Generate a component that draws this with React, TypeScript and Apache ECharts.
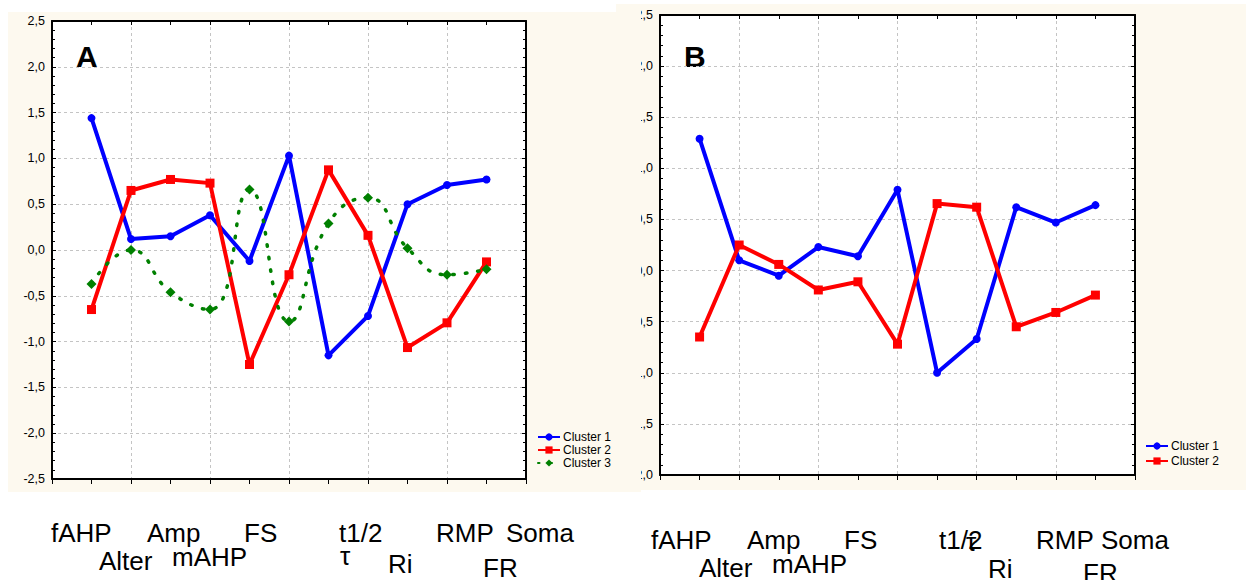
import React, { useEffect, useRef } from "react";
import * as echarts from "echarts";

// ---- data ----
const categories = ["fAHP", "Alter", "Amp", "mAHP", "FS", "τ", "t1/2", "Ri", "RMP", "FR", "Soma"];
const seriesNames = ["Cluster 1", "Cluster 2", "Cluster 3"];
const clusterA1 = [1.44, 0.12, 0.15, 0.38, -0.12, 1.03, -1.15, -0.72, 0.5, 0.71, 0.77];
const clusterA2 = [-0.65, 0.65, 0.77, 0.73, -1.25, -0.27, 0.875, 0.16, -1.065, -0.795, -0.13];
const clusterA3 = [-0.37, 0.0, -0.46, -0.65, 0.66, -0.78, 0.29, 0.57, 0.02, -0.27, -0.21];
const clusterB1 = [1.29, 0.1, -0.05, 0.23, 0.14, 0.79, -1.0, -0.67, 0.62, 0.47, 0.64];
const clusterB2 = [-0.65, 0.25, 0.06, -0.19, -0.11, -0.72, 0.655, 0.62, -0.55, -0.41, -0.24];
const yRangeA = [-2.5, 2.5];
const yRangeB = [-2.0, 2.5];
const yStep = 0.5;

// ---- layout (not data) ----
const FONT = "'Liberation Sans', Arial, sans-serif";
const labelPosA = [
  [51, 533], [99, 561], [147, 533], [172, 557], [244, 533], [340, 556],
  [339, 533], [388, 564], [436, 533], [483, 568], [506, 533],
];
const labelPosB = [
  [51, 540], [99, 568], [147, 540], [172, 564], [244, 540], [366, 542],
  [339, 540], [388, 569], [436, 540], [483, 573], [501, 540],
];

const COLORS = ["#0000ff", "#ff0000", "#008000"];

function styleFor(i: number) {
  if (i === 0)
    return { symbol: "circle", symbolSize: 8, lineStyle: { color: COLORS[0], width: 4 } };
  if (i === 1)
    return { symbol: "rect", symbolSize: 9, lineStyle: { color: COLORS[1], width: 4 } };
  return {
    symbol: "diamond",
    symbolSize: 10,
    smooth: true,
    lineStyle: { color: COLORS[2], width: 3.5, type: [1.5, 11], cap: "round" },
  };
}

function buildOption(cfg: any) {
  const fmt = (v: number) => v.toFixed(1).replace(".", ",");
  const splitLine = { show: true, lineStyle: { color: "#c4c4c4", width: 1, type: [3, 3] } };
  const axisLine = { show: true, onZero: false, lineStyle: { color: "#000", width: 2 } };
  const series = cfg.series.map((vals: number[], i: number) => ({
    type: "line",
    name: seriesNames[i],
    data: vals.map((v, k) => [k + 1, v]),
    itemStyle: { color: COLORS[i] },
    z: 3 + i,
    ...styleFor(i),
  }));
  const graphic: any[] = [
    {
      type: "text",
      x: cfg.letterPos[0],
      y: cfg.letterPos[1],
      style: { text: cfg.letter, fontSize: 30, fontWeight: "bold", fontFamily: FONT, fill: "#000", align: "left", verticalAlign: "top" },
    },
  ];
  categories.forEach((c, i) => {
    graphic.push({
      type: "text",
      x: cfg.labelPos[i][0],
      y: cfg.labelPos[i][1],
      style: { text: c, fontSize: 26, fontFamily: FONT, fill: "#000", align: "left", verticalAlign: "middle" },
    });
  });
  return {
    animation: false,
    textStyle: { fontFamily: FONT },
    grid: { ...cfg.grid, show: true, backgroundColor: "#ffffff", borderWidth: 0, containLabel: false },
    legend: {
      orient: "vertical",
      left: cfg.legend[0],
      top: cfg.legend[1],
      itemWidth: 22,
      itemHeight: 9,
      itemGap: cfg.legendGap,
      padding: 0,
      textStyle: { fontSize: 12, lineHeight: 12, color: "#000", fontFamily: FONT, padding: [0, 0, 0, -2] },
      data: seriesNames.slice(0, cfg.series.length),
    },
    xAxis: [
      {
        type: "value",
        min: 0,
        max: 12,
        interval: 2,
        position: "bottom",
        axisLine,
        axisTick: { show: true, inside: false, length: 5, lineStyle: { color: "#000", width: 1 } },
        minorTick: { show: true, splitNumber: 2, length: 5, lineStyle: { color: "#000", width: 1 } },
        splitLine,
        axisLabel: { show: false },
      },
      {
        type: "value",
        min: 0,
        max: 12,
        interval: 2,
        position: "top",
        axisLine,
        axisTick: { show: true, inside: true, length: 4, lineStyle: { color: "#000", width: 1 } },
        minorTick: { show: true, splitNumber: 2, length: 4, lineStyle: { color: "#000", width: 1 } },
        splitLine: { show: false },
        axisLabel: { show: false },
      },
    ],
    yAxis: [
      {
        type: "value",
        min: cfg.yRange[0],
        max: cfg.yRange[1],
        interval: yStep,
        position: "left",
        axisLine,
        axisTick: { show: true, inside: true, length: 4, lineStyle: { color: "#000", width: 1 } },
        minorTick: { show: true, splitNumber: 5, length: 3, lineStyle: { color: "#000", width: 1 } },
        splitLine,
        axisLabel: { show: true, formatter: fmt, fontSize: 12.5, color: "#000", fontFamily: FONT, margin: 7 },
      },
      {
        type: "value",
        min: cfg.yRange[0],
        max: cfg.yRange[1],
        interval: yStep,
        position: "right",
        axisLine,
        axisTick: { show: true, inside: true, length: 4, lineStyle: { color: "#000", width: 1 } },
        minorTick: { show: true, splitNumber: 5, length: 3, lineStyle: { color: "#000", width: 1 } },
        splitLine: { show: false },
        axisLabel: { show: false },
      },
    ],
    series,
    graphic,
  };
}

export default function App() {
  const refA = useRef<HTMLDivElement>(null);
  const refB = useRef<HTMLDivElement>(null);

  useEffect(() => {
    const a = echarts.init(refA.current!, null, { renderer: "svg" });
    a.setOption(
      buildOption({
        series: [clusterA1, clusterA2, clusterA3],
        yRange: yRangeA,
        grid: { left: 52, top: 21, width: 474, height: 458 },
        letter: "A",
        letterPos: [76, 41],
        legend: [537, 431],
        legendGap: 1,
        labelPos: labelPosA,
      })
    );
    const b = echarts.init(refB.current!, null, { renderer: "svg" });
    b.setOption(
      buildOption({
        series: [clusterB1, clusterB2],
        yRange: yRangeB,
        grid: { left: 60, top: 15, width: 475, height: 460 },
        letter: "B",
        letterPos: [84, 41],
        legend: [545, 440],
        legendGap: 3,
        labelPos: labelPosB,
      })
    );
    return () => {
      a.dispose();
      b.dispose();
    };
  }, []);

  return (
    <div style={{ position: "fixed", left: 0, top: 0, width: 1246, height: 580, background: "#ffffff", overflow: "hidden" }}>
      <div style={{ position: "absolute", left: 616, top: 4, width: 630, height: 486, background: "#fdf9ef" }} />
      <div style={{ position: "absolute", left: 8, top: 12, width: 633, height: 480, background: "#fdf9ef" }} />
      <div ref={refA} style={{ position: "absolute", left: 0, top: 0, width: 641, height: 580 }} />
      <div style={{ position: "absolute", left: 641, top: 0, width: 605, height: 580, overflow: "hidden" }}>
        <div ref={refB} style={{ position: "absolute", left: -41, top: 0, width: 646, height: 580 }} />
      </div>
    </div>
  );
}
